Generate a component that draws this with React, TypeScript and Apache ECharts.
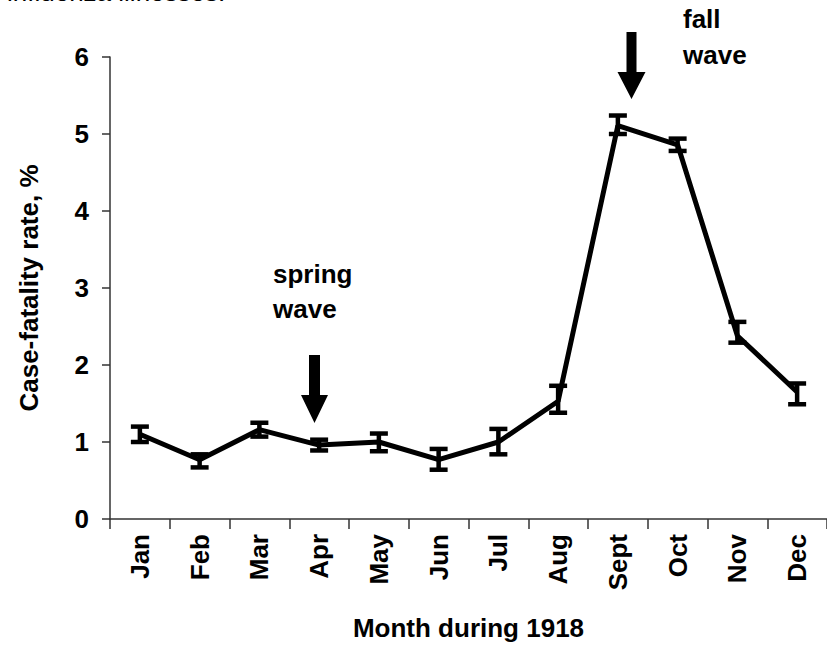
import React, { useEffect, useRef } from "react";
import * as echarts from "echarts";

const months = ["Jan", "Feb", "Mar", "Apr", "May", "Jun", "Jul", "Aug", "Sept", "Oct", "Nov", "Dec"];
const rate = [1.1, 0.77, 1.16, 0.96, 1.0, 0.77, 1.0, 1.53, 5.11, 4.86, 2.38, 1.65];
const lower = [1.0, 0.67, 1.07, 0.89, 0.88, 0.64, 0.84, 1.38, 5.0, 4.78, 2.29, 1.49];
const upper = [1.2, 0.84, 1.25, 1.03, 1.11, 0.91, 1.17, 1.73, 5.24, 4.94, 2.56, 1.76];

const FONT = "'Liberation Sans', Arial, Helvetica, sans-serif";

export default function App() {
  const ref = useRef<HTMLDivElement>(null);
  useEffect(() => {
    if (!ref.current) return;
    const chart = echarts.init(ref.current, null, { renderer: "svg" });
    const errData = months.map((_, i) => [i, lower[i], upper[i]]);
    const textStyle = (text: string, x: number, y: number, bold = true) => ({
      type: "text",
      x,
      y,
      style: {
        text,
        font: `${bold ? "bold " : ""}26px ${FONT}`,
        fill: "#000",
        textVerticalAlign: "middle",
        textAlign: "left",
      },
    });
    chart.setOption({
      animation: false,
      backgroundColor: "#fff",
      grid: { left: 110, top: 57, width: 719, height: 464 },
      xAxis: {
        type: "category",
        data: months,
        boundaryGap: true,
        name: "Month during 1918",
        nameLocation: "middle",
        nameGap: 96,
        nameTextStyle: { fontFamily: FONT, fontWeight: "bold", fontSize: 26, color: "#000" },
        axisLine: { lineStyle: { color: "#333", width: 1.5 } },
        axisTick: { show: true, length: 10, alignWithLabel: false, lineStyle: { color: "#333", width: 1.5 } },
        axisLabel: { rotate: 90, margin: 15, fontFamily: FONT, fontWeight: "bold", fontSize: 26, color: "#000", interval: 0 },
        splitLine: { show: false },
      },
      yAxis: {
        type: "value",
        min: 0,
        max: 6,
        interval: 1,
        name: "Case-fatality rate, %",
        nameLocation: "middle",
        nameGap: 68,
        nameTextStyle: { fontFamily: FONT, fontWeight: "bold", fontSize: 26, color: "#000" },
        axisLine: { show: true, lineStyle: { color: "#333", width: 1.5 } },
        axisTick: { show: true, length: 8, lineStyle: { color: "#333", width: 1.5 } },
        axisLabel: { margin: 21, fontFamily: FONT, fontWeight: "bold", fontSize: 26, color: "#000" },
        splitLine: { show: false },
      },
      series: [
        {
          type: "line",
          data: rate,
          symbol: "none",
          lineStyle: { color: "#000", width: 5 },
          z: 2,
        },
        {
          type: "custom",
          data: errData,
          encode: { x: 0, y: [1, 2] },
          z: 3,
          renderItem: (_params: any, api: any) => {
            const x = api.value(0);
            const pLo = api.coord([x, api.value(1)]);
            const pHi = api.coord([x, api.value(2)]);
            const hw = 9;
            const style = { stroke: "#000", lineWidth: 4.5 };
            return {
              type: "group",
              children: [
                { type: "line", shape: { x1: pLo[0], y1: pLo[1], x2: pHi[0], y2: pHi[1] }, style },
                { type: "line", shape: { x1: pLo[0] - hw, y1: pLo[1], x2: pLo[0] + hw, y2: pLo[1] }, style },
                { type: "line", shape: { x1: pHi[0] - hw, y1: pHi[1], x2: pHi[0] + hw, y2: pHi[1] }, style },
              ],
            };
          },
        },
      ],
      graphic: [
        {
          type: "text",
          x: 7,
          y: -8,
          style: {
            text: "influenza illnesses.",
            font: `26px ${FONT}`,
            fill: "#000",
            textVerticalAlign: "middle",
            textAlign: "left",
          },
        },
        textStyle("spring", 273, 274),
        textStyle("wave", 273, 309),
        textStyle("fall", 683, 19),
        textStyle("wave", 683, 55),
        {
          type: "polygon",
          shape: {
            points: [
              [309, 355], [320, 355], [320, 395], [328, 395], [314.5, 423], [301, 395], [309, 395],
            ],
          },
          style: { fill: "#000" },
        },
        {
          type: "polygon",
          shape: {
            points: [
              [626.5, 32], [636.5, 32], [636.5, 72], [645.5, 72], [631.5, 99], [617.5, 72], [626.5, 72],
            ],
          },
          style: { fill: "#000" },
        },
      ],
    });
    return () => chart.dispose();
  }, []);
  return (
    <div
      ref={ref}
      style={{ position: "absolute", left: 0, top: 0, width: 827, height: 646, background: "#fff" }}
    />
  );
}
